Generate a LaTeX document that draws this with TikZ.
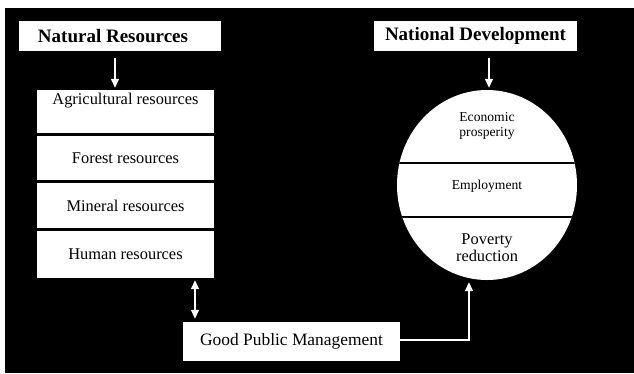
\documentclass[tikz,border=0pt]{standalone}
\usepackage{fontspec}
\setmainfont{Liberation Serif}
\usetikzlibrary{arrows.meta,shapes.geometric}
\begin{document}
\begin{tikzpicture}[x=1pt,y=-1pt,
  box/.style={draw=none,fill=white,rectangle,inner sep=0pt,anchor=center},
  head/.style={font=\fontsize{19}{22}\selectfont\bfseries},
  item/.style={font=\fontsize{16.4}{19}\selectfont},
  small/.style={font=\fontsize{13.6}{14.5}\selectfont,align=center},
  arr/.style={draw=white,line width=1.4pt,-{Triangle[length=9pt,width=8pt]}},
  darr/.style={draw=white,line width=1.8pt,{Triangle[length=9pt,width=8pt]}-{Triangle[length=9pt,width=8pt]}},
]
% page frame
\fill[white] (0,0) rectangle (634,373);
\fill[black] (5,8) rectangle (634,373);
\useasboundingbox (0,0) rectangle (634,373);

% headings
\node[box,minimum width=202pt,minimum height=30pt] (nr) at (120,36) {};
\node[head] (nrt) at (113,36) {Natural Resources};
\node[box,head,minimum width=203pt,minimum height=30pt] (nd) at (475.5,36) {National Development};

% stack of resources
\node[box,minimum width=177pt,minimum height=43pt] (agri) at (125.5,111.5) {};
\node[item] (agrit) at (125.5,101) {Agricultural resources};
\node[box,item,minimum width=177pt,minimum height=44pt] (forest) at (125.5,158) {Forest resources};
\node[box,item,minimum width=177pt,minimum height=45pt] (mineral) at (125.5,205.5) {Mineral resources};
\node[box,item,minimum width=177pt,minimum height=47pt] (human) at (125.5,254.5) {Human resources};

% management box
\node[box,minimum width=217pt,minimum height=39pt,font=\fontsize{17.4}{20}\selectfont] (gpm) at (291.5,341.5) {\raisebox{2pt}{Good Public Management}};

% development circle
\node[ellipse,fill=white,inner sep=0pt,minimum width=180pt,minimum height=190pt] (dev) at (487,185) {};
\begin{scope}
  \clip (487,185) ellipse [x radius=90, y radius=95];
  \draw[black,line width=2.4pt] (390,163) -- (584,163);
  \draw[black,line width=2.4pt] (390,217) -- (584,217);
\end{scope}
\node[small] (econ) at (487,126) {Economic\\prosperity};
\node[small] (empl) at (487,186) {Employment};
\node[item,align=center,font=\fontsize{16.4}{17}\selectfont] (pov) at (487,248) {Poverty\\reduction};

% connectors
\draw[arr,shorten <=7pt,shorten >=2pt] ([xshift=-5pt]nr.south) -- ([xshift=-10.5pt]agri.north);
\draw[arr,shorten <=7pt,shorten >=2pt] ([xshift=13.5pt]nd.south) -- ([xshift=2pt]dev.north);
\draw[darr,shorten <=2pt,shorten >=3pt] ([xshift=69.5pt]human.south) -- ([xshift=-96.5pt]gpm.north);
\draw[arr,line width=1.8pt] ([yshift=1.5pt]gpm.east) -| ([xshift=-18pt,yshift=-2pt]dev.south);
\end{tikzpicture}
\end{document}
